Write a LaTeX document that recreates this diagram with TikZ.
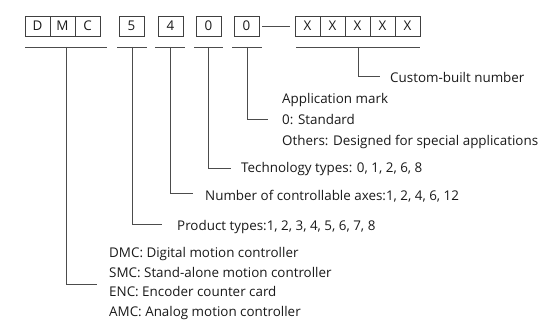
\documentclass[tikz,border=0pt]{standalone}
\usepackage{fontspec}
\setmainfont{Open Sans}
\usetikzlibrary{calc,positioning}

\begin{document}
\begin{tikzpicture}[
  x=1pt,y=-1pt,
  font=\fontsize{13.4}{20}\selectfont,
  text=black!90,
  cell/.style={draw=black!75,minimum width=25pt,minimum height=20pt,inner sep=0pt},
  ln/.style={draw=black!70,line width=0.8pt},
  lbl/.style={anchor=base west,inner sep=0pt}
]
  \useasboundingbox (0,0) rectangle (540,321);

  % code boxes
  \foreach \name/\t/\x in {d/D/37.5,mm/M/62.5,c/C/87.5,p/5/131.5,a/4/170.5,
                           t/0/208.5,s/0/246.5,x1/X/307.5,x2/X/332.5,
                           x3/X/357.5,x4/X/382.5,x5/X/407.5} {
    \node[cell] (\name) at (\x,26) {\t};
  }
  \draw[ln,shorten <=3pt,shorten >=5pt] (s.east) -- (x1.west);

  % underlines
  \foreach \name/\l/\r in {ud/25/107,up/117/147,ua/155/185,ut/194/223,
                           us/232/262,ux/296/420} {
    \draw[ln] (\l,47) -- (\r,47);
    \coordinate (\name) at ({(\l+\r)/2},47);
  }

  % labels
  \node[lbl] (cust) at (390,82) {Custom-built number};
  \node[lbl] (app1) at (282,103) {Application mark};
  \node[lbl] (app2) at (282,124) {0: Standard};
  \node[lbl] (app3) at (282,145) {Others: Designed for special applications};
  \node[lbl] (tech) at (241,172) {Technology types: 0, 1, 2, 6, 8};
  \node[lbl] (axes) at (205,200) {Number of controllable axes:1, 2, 4, 6, 12};
  \node[lbl] (prod) at (177,230) {Product types:1, 2, 3, 4, 5, 6, 7, 8};
  \node[lbl] (dmc1) at (109,257) {DMC: Digital motion controller};
  \node[lbl] (dmc2) at (109,277) {SMC: Stand-alone motion controller};
  \node[lbl] (dmc3) at (109,296) {ENC: Encoder counter card};
  \node[lbl] (dmc4) at (109,316) {AMC: Analog motion controller};

  \draw[ln] (ux) |- ([xshift=-10pt,yshift=6pt]cust.base west);
  \draw[ln] (us) |- ([xshift=-14pt,yshift=5pt]app2.base west);
  \draw[ln] (ut) |- ([xshift=-10pt,yshift=4pt]tech.base west);
  \draw[ln] (ua) |- ([xshift=-12pt,yshift=7pt]axes.base west);
  \draw[ln] (up) |- ([xshift=-15pt,yshift=6pt]prod.base west);
  \draw[ln] (ud) |- ([xshift=-12pt,yshift=12pt]dmc3.base west);
\end{tikzpicture}
\end{document}
